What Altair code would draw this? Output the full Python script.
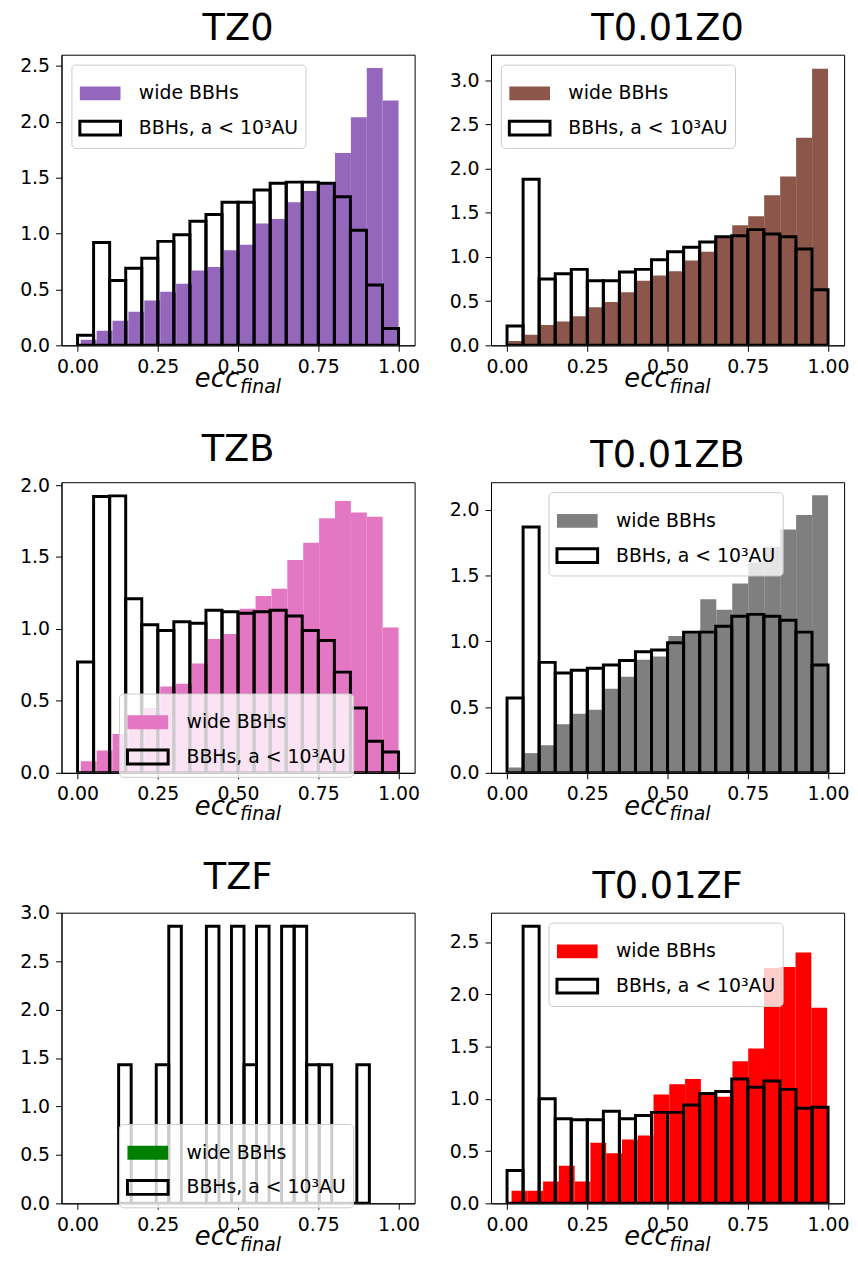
import altair as alt
import numpy as np
import pandas as pd

FONT = "DejaVu Sans"
WIDE = "wide BBHs"
CLOSE = "BBHs, a < 10³AU"

panel_names = ["TZ0", "T0.01Z0", "TZB", "T0.01ZB", "TZF", "T0.01ZF"]
wide_colors = ["#9467bd", "#8c564b", "#e377c2", "#7f7f7f", "#008000", "#ff0000"]

# density heights, 20 bins each
wide_TZ0 = [0.05, 0.13, 0.22, 0.30, 0.40, 0.48, 0.55, 0.67, 0.70, 0.85, 0.90, 1.09, 1.13, 1.28, 1.38, 1.45, 1.72, 2.04, 2.48, 2.19]
close_TZ0 = [0.09, 0.92, 0.58, 0.69, 0.78, 0.93, 0.99, 1.11, 1.17, 1.28, 1.28, 1.39, 1.45, 1.46, 1.46, 1.45, 1.33, 1.03, 0.54, 0.15]

wide_T001Z0 = [0.05, 0.12, 0.23, 0.27, 0.33, 0.43, 0.49, 0.60, 0.73, 0.79, 0.84, 0.96, 1.06, 1.22, 1.36, 1.46, 1.70, 1.91, 2.35, 3.13]
close_T001Z0 = [0.22, 1.88, 0.75, 0.81, 0.86, 0.73, 0.73, 0.83, 0.86, 0.97, 1.06, 1.11, 1.17, 1.23, 1.24, 1.31, 1.26, 1.23, 1.09, 0.63]

wide_TZB = [0.08, 0.155, 0.27, 0.36, 0.45, 0.60, 0.62, 0.76, 0.93, 0.965, 1.14, 1.23, 1.28, 1.48, 1.60, 1.77, 1.89, 1.81, 1.78, 1.01]
close_TZB = [0.77, 1.92, 1.925, 1.21, 1.03, 0.99, 1.05, 1.04, 1.13, 1.12, 1.11, 1.12, 1.13, 1.09, 0.99, 0.92, 0.70, 0.45, 0.22, 0.145]

wide_T001ZB = [0.04, 0.15, 0.21, 0.37, 0.45, 0.48, 0.64, 0.73, 0.86, 0.885, 1.04, 1.07, 1.32, 1.24, 1.44, 1.60, 1.72, 1.85, 1.96, 2.11]
close_T001ZB = [0.57, 1.87, 0.84, 0.76, 0.78, 0.795, 0.82, 0.855, 0.92, 0.935, 0.99, 1.07, 1.07, 1.115, 1.19, 1.205, 1.19, 1.16, 1.07, 0.82]

wide_TZF = []
close_TZF = [1.43, 0, 0, 1.43, 2.86, 0, 0, 2.86, 0, 2.86, 1.43, 2.86, 0, 2.86, 2.86, 1.43, 1.43, 0, 0, 1.43]

wide_T001ZF = [0.12, 0.12, 0.21, 0.36, 0.21, 0.58, 0.48, 0.61, 0.65, 1.04, 1.14, 1.19, 1.06, 1.02, 1.36, 1.48, 2.25, 2.26, 2.40, 1.87]
close_T001ZF = [0.315, 2.65, 1.00, 0.81, 0.80, 0.80, 0.88, 0.81, 0.84, 0.87, 0.87, 0.94, 1.05, 1.07, 1.19, 1.11, 1.17, 1.09, 0.91, 0.92]

wide_heights = [wide_TZ0, wide_T001Z0, wide_TZB, wide_T001ZB, wide_TZF, wide_T001ZF]
close_heights = [close_TZ0, close_T001Z0, close_TZB, close_T001ZB, close_TZF, close_T001ZF]

# bin ranges (first / last edge of the 20 bins)
wide_lo = [0.01, 0.005, 0.01, 0.005, 0.0, 0.014]
wide_hi = [1.0, 1.0, 1.0, 1.0, 1.0, 0.997]
close_lo = [0.0, 0.0, 0.0, 0.0, 0.128, 0.0]
close_hi = [1.0, 1.0, 1.0, 1.0, 0.909, 1.0]

y_max = [2.60, 3.29, 2.02, 2.21, 3.0, 2.78]
# legend box position inside the plot (pixels from top-left of plot area)
legend_pos = [(10, 10), (10, 10), (58, 213), (58, 10), (58, 213), (58, 10)]

x_ticks = [0.0, 0.25, 0.5, 0.75, 1.0]

W, H = 356, 293


def make_df(i):
    rows = []
    we = np.linspace(wide_lo[i], wide_hi[i], 21)
    for k, h in enumerate(wide_heights[i]):
        rows.append({"series": WIDE, "lo": we[k], "hi": we[k + 1], "h": h})
    ce = np.linspace(close_lo[i], close_hi[i], 21)
    for k, h in enumerate(close_heights[i]):
        rows.append({"series": CLOSE, "lo": ce[k], "hi": ce[k + 1], "h": h})
    return pd.DataFrame(rows)


def panel(i):
    df = make_df(i)
    lx, ly = legend_pos[i]
    yt = [v * 0.5 for v in range(0, int(y_max[i] / 0.5) + 1)]
    leg = dict(
        title=None, orient="none", legendX=lx, legendY=ly,
        symbolType="M-1,-0.34H1V0.34H-1Z", symbolSize=1681, symbolStrokeWidth=3,
        labelFontSize=19, labelFont=FONT, labelColor="black", labelLimit=400,
        fillColor="rgba(255,255,255,0.8)", strokeColor="#cccccc", cornerRadius=4,
        padding=7, rowPadding=-7, labelOffset=17,
    )
    bars = alt.Chart(df).mark_bar(clip=True, strokeWidth=3).encode(
        x=alt.X("lo:Q", scale=alt.Scale(domain=[-0.05, 1.05], nice=False, zero=False),
                axis=alt.Axis(values=x_ticks, format=".2f", title=None)),
        x2="hi:Q",
        y=alt.Y("h:Q", stack=None, scale=alt.Scale(domain=[0, y_max[i]], nice=False),
                axis=alt.Axis(values=yt, format=".1f", title=None)),
        y2=alt.datum(0),
        fill=alt.Fill("series:N", scale=alt.Scale(domain=[WIDE, CLOSE], range=[wide_colors[i], "transparent"]),
                      legend=alt.Legend(**leg)),
        stroke=alt.Stroke("series:N", scale=alt.Scale(domain=[WIDE, CLOSE], range=["transparent", "black"]),
                          legend=alt.Legend(**leg)),
        order=alt.Order("series:N", sort="descending"),
    )
    d = alt.Data(values=[{"k": 0}])
    ecc = alt.Chart(d).mark_text(text="ecc", font=FONT, fontSize=26, fontStyle="italic", align="right",
                                  baseline="alphabetic", color="black").encode(
        x=alt.value(W / 2 + 1), y=alt.value(H + 42))
    fin = alt.Chart(d).mark_text(text="final", font=FONT, fontSize=19, fontStyle="italic", align="left",
                                  baseline="alphabetic", color="black").encode(
        x=alt.value(W / 2 + 2), y=alt.value(H + 48))
    return alt.layer(bars, ecc, fin).properties(
        width=W, height=H,
        title=alt.TitleParams(text=panel_names[i], fontSize=37, font=FONT, fontWeight="normal",
                              color="black", offset=7),
    )


rows = [
    alt.hconcat(panel(2 * r), panel(2 * r + 1), spacing=28)
    .resolve_scale(fill="independent", stroke="independent", x="independent", y="independent")
    .resolve_legend(fill="independent", stroke="independent")
    for r in range(3)
]
chart = alt.vconcat(*rows, spacing=33).resolve_scale(
    fill="independent", stroke="independent", x="independent", y="independent"
).resolve_legend(fill="independent", stroke="independent").properties(
    padding={"left": 19, "top": 4, "right": 8, "bottom": 2}
).configure_view(stroke="black", strokeWidth=1).configure_axis(
    domainColor="black", tickColor="black", tickSize=6, tickWidth=1, grid=False,
    labelFont=FONT, labelFontSize=19, labelColor="black", labelPadding=6, domainWidth=1,
).configure_title(anchor="middle")

chart.save("out.html", embed_options={"renderer": "svg", "actions": False})
